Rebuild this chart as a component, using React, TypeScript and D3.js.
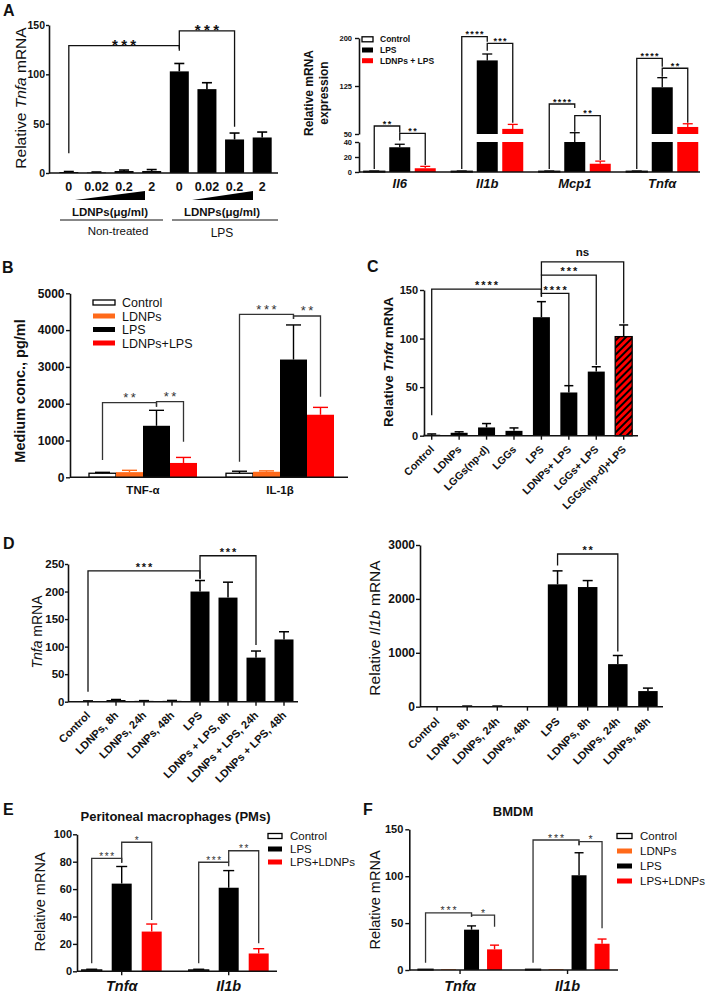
import * as d3 from "d3";
import { useEffect, useRef } from "react";

const FONT = "'Liberation Sans', Arial, Helvetica, sans-serif";
const INK = "#111";
const GREY = "#333";
const RED = "#ff0000";
const ORANGE = "#ff6a1a";

// ---------- A (left): Tnfa vs LDNPs dose ----------
const aDoses = ["0", "0.02", "0.2", "2", "0", "0.02", "0.2", "2"];
const aMeans = [1, 0.5, 2, 2, 103, 85, 34, 36];
const aErrs = [0.5, 0.5, 1, 1.5, 8, 6.5, 6.5, 5.5];
const aTicks = [0, 50, 100, 150];
// [from, to, label, top, left foot, right foot] (data units)
const aBrackets: any[] = [[0, 4, "***", 129, 20, 126], [4, 6, "***", 144, 124, 47]];

// ---------- A (right): broken axis ----------
const arGenes = ["Il6", "Il1b", "Mcp1", "Tnfα"];
const arSeries = ["Control", "LPS", "LDNPs + LPS"];
const arControl = [1, 1, 1, 1];
const arControlErr = [0.3, 0.3, 0.3, 0.3];
const arLps = [33, 165, 46, 123];
const arLpsErr = [4, 10, 6, 15];
const arLdnpsLps = [5, 58, 11, 61];
const arLdnpsLpsErr = [2.5, 7, 3.5, 5];
const arTicksLow = [0, 20, 40];
const arTicksHigh = [50, 125, 200];
// [gene, series a, series b, label, top, left foot, right foot]
const arBrackets: any[] = [
  [0, 0, 1, "**", 62.5, 4, 52], [0, 1, 2, "**", 51, 42, 9.5],
  [1, 0, 1, "****", 202, 4, 194], [1, 1, 2, "***", 191.7, 180, 67.6],
  [2, 0, 1, "****", 96.9, 4, 90.6], [2, 1, 2, "**", 78.6, 53.6, 16],
  [3, 0, 1, "****", 168.3, 4, 155], [3, 1, 2, "**", 152.7, 139.5, 67.6],
];

// ---------- B: medium concentration ----------
const bGroups = ["TNF-α", "IL-1β"];
const bSeries = ["Control", "LDNPs", "LPS", "LDNPs+LPS"];
const bControl = [110, 110];
const bControlErr = [25, 55];
const bLdnps = [140, 150];
const bLdnpsErr = [50, 25];
const bLps = [1400, 3200];
const bLpsErr = [420, 940];
const bLdnpsLps = [390, 1700];
const bLdnpsLpsErr = [150, 200];
const bTicks = [0, 1000, 2000, 3000, 4000, 5000];
const bBrackets: any[] = [
  [0, 0, 2, "**", 2027, 470, 1918], [0, 2, 3, "**", 2054, 1918, 967],
  [1, 0, 2, "***", 4429, 424, 4300], [1, 2, 3, "**", 4383, 4300, 2190],
];

// ---------- C: Tnfα with LGGs ----------
const cLabels = ["Control", "LDNPs", "LGGs(np-d)", "LGGs", "LPS", "LDNPs+ LPS", "LGGs+ LPS", "LGGs(np-d)+LPS"];
const cMeans = [1, 3, 8.5, 5, 122, 44.5, 66, 102];
const cErrs = [0.8, 1, 4, 3, 16, 7, 5, 12];
const cTicks = [0, 50, 100, 150];
const cBrackets: any[] = [
  [0, 4, "****", 151, 21, 143], [4, 5, "****", 146.5, 143, 52],
  [4, 6, "***", 165.3, 146, 72.7], [4, 7, "ns", 179, 165, 115.6],
];

// ---------- D: time course ----------
const dLeftLabels = ["Control", "LDNPs, 8h", "LDNPs, 24h", "LDNPs, 48h", "LPS", "LDNPs + LPS, 8h", "LDNPs + LPS, 24h", "LDNPs + LPS, 48h"];
const dLeftMeans = [1, 3, 1.5, 1.5, 200, 189, 80, 113];
const dLeftErrs = [0.5, 1, 0.5, 0.8, 20, 28, 12, 14];
const dLeftTicks = [0, 50, 100, 150, 200, 250];
const dLeftBrackets: any[] = [[0, 4, "***", 237.6, 18, 223], [4, 6, "***", 265, 223, 103]];

const dRightLabels = ["Control", "LDNPs, 8h", "LDNPs, 24h", "LDNPs, 48h", "LPS", "LDNPs, 8h", "LDNPs, 24h", "LDNPs, 48h"];
const dRightMeans = [0, 8, 8, 0, 2270, 2220, 790, 290];
const dRightErrs = [0, 4, 4, 0, 250, 120, 160, 55];
const dRightTicks = [0, 1000, 2000, 3000];
const dRightBrackets: any[] = [[4, 6, "**", 2833, 2621, 1022]];

// ---------- E: peritoneal macrophages ----------
const eGenes = ["Tnfα", "Il1b"];
const eSeries = ["Control", "LPS", "LPS+LDNPs"];
const eControl = [1, 1];
const eControlErr = [0.5, 0.5];
const eLps = [64, 61];
const eLpsErr = [12.5, 12.5];
const eLpsLdnps = [29, 13];
const eLpsLdnpsErr = [5.5, 3.5];
const eTicks = [0, 20, 40, 60, 80, 100];
const eBrackets: any[] = [
  [0, 0, 1, "***", 82.5, 5.8, 79.3], [0, 1, 2, "*", 94.2, 79.3, 37.4],
  [1, 0, 1, "***", 79.6, 5.8, 76.7], [1, 1, 2, "**", 88, 79.6, 20.4],
];

// ---------- F: BMDM ----------
const fGenes = ["Tnfα", "Il1b"];
const fSeries = ["Control", "LDNPs", "LPS", "LPS+LDNPs"];
const fControl = [0.8, 0.8];
const fLdnps = [0.8, 0.8];
const fLps = [43, 101];
const fLpsErr = [4, 24];
const fLpsLdnps = [22, 28];
const fLpsLdnpsErr = [4.5, 5];
const fTicks = [0, 50, 100, 150];
const fBrackets: any[] = [
  [0, 0, 2, "***", 61, 7.8, 56.8], [0, 2, 3, "*", 58.6, 56.8, 46],
  [1, 0, 2, "***", 138.6, 7.8, 133], [1, 2, 3, "*", 136.8, 133, 44.5],
];

// ---------- helpers ----------
function txt(g: any, x: number, y: number, s: string, fs: number, opts: any = {}) {
  return g.append("text").attr("x", x).attr("y", y).attr("font-family", FONT).attr("font-size", fs)
    .attr("font-weight", opts.weight || "normal").attr("font-style", opts.italic ? "italic" : "normal")
    .attr("text-anchor", opts.anchor || "start").attr("fill", opts.color || INK).text(s);
}

function axisY(g: any, y: any, ticks: number[], x: number, fs: number, size = 4, pad = 1.5) {
  const ax = g.append("g").attr("transform", `translate(${x},0)`)
    .call(d3.axisLeft(y).tickValues(ticks).tickFormat(d3.format("d")).tickSize(size).tickSizeOuter(0).tickPadding(pad));
  ax.select(".domain").attr("stroke", INK).attr("stroke-width", 1.6);
  ax.selectAll(".tick line").attr("stroke", INK).attr("stroke-width", 1.4);
  ax.selectAll(".tick text").attr("fill", INK).attr("font-size", fs).attr("font-weight", "bold").attr("font-family", FONT);
}

function hLine(g: any, x1: number, x2: number, y: number, sw = 1.6) {
  g.append("line").attr("x1", x1).attr("x2", x2).attr("y1", y).attr("y2", y).attr("stroke", INK).attr("stroke-width", sw);
}

function xTicks(g: any, xs: number[], y: number) {
  xs.forEach((x) => g.append("line").attr("x1", x).attr("x2", x).attr("y1", y).attr("y2", y + 4).attr("stroke", INK).attr("stroke-width", 1.4));
}

function rect(g: any, x: number, y: number, w: number, h: number, fill: string, stroke?: string) {
  const r = g.append("rect").attr("x", x).attr("y", y).attr("width", w).attr("height", Math.max(h, 0.6)).attr("fill", fill);
  if (stroke) r.attr("stroke", stroke).attr("stroke-width", 1.3);
  return r;
}

function errBar(g: any, cx: number, y0: number, y1: number, cap: number, color: string, sw = 1.4) {
  g.append("line").attr("x1", cx).attr("x2", cx).attr("y1", y0).attr("y2", y1).attr("stroke", color).attr("stroke-width", sw);
  g.append("line").attr("x1", cx - cap / 2).attr("x2", cx + cap / 2).attr("y1", y1).attr("y2", y1).attr("stroke", color).attr("stroke-width", sw);
}

function bracket(g: any, x1: number, x2: number, yTop: number, yL: number, yR: number, label: string, st: any) {
  g.append("path").attr("d", `M${x1},${yL}V${yTop}H${x2}V${yR}`).attr("fill", "none")
    .attr("stroke", st.color).attr("stroke-width", 1.3);
  const star = label.indexOf("*") >= 0;
  const fs = star ? st.fs : st.fs * 1.05;
  const by = star ? yTop - st.gap + fs * 0.57 : yTop - 8.5 + fs * 0.26;
  g.append("text").attr("x", (x1 + x2) / 2 + (star ? st.ls / 2 : 0)).attr("y", by)
    .attr("text-anchor", "middle").attr("font-family", FONT).attr("font-size", fs)
    .attr("font-weight", st.weight).attr("letter-spacing", star ? st.ls : 0).attr("fill", st.color).text(label);
}

function yLabel(g: any, x: number, y: number, parts: [string, boolean][], fs: number, weight = "normal") {
  const t = g.append("text").attr("transform", `translate(${x},${y}) rotate(-90)`).attr("text-anchor", "middle")
    .attr("font-family", FONT).attr("font-size", fs).attr("font-weight", weight).attr("fill", INK)
    .style("white-space", "pre");
  parts.forEach(([s, it]) => t.append("tspan").attr("font-style", it ? "italic" : "normal").text(s));
}

function rotLabels(g: any, labels: string[], xs: number[], y: number, fs: number) {
  labels.forEach((l, i) => g.append("text").attr("transform", `translate(${xs[i] + 3},${y}) rotate(-45)`)
    .attr("text-anchor", "end").attr("font-family", FONT).attr("font-size", fs).attr("font-weight", "bold")
    .attr("fill", INK).text(l));
}

function legend(g: any, x: number, ys: number[], w: number, h: number, items: any[], tx: number, fs: number, weight = "normal") {
  items.forEach((it, i) => {
    rect(g, x, ys[i] - h / 2, w, h, it.fill, it.stroke);
    txt(g, tx, ys[i], it.label, fs, { weight }).attr("dy", "0.36em");
  });
}

export default function App() {
  const ref = useRef<SVGSVGElement>(null);

  useEffect(() => {
    const svg = d3.select(ref.current);
    svg.selectAll("*").remove();
    svg.append("rect").attr("width", 709).attr("height", 995).attr("fill", "#fff");

    const pat = svg.append("defs").append("pattern").attr("id", "hatch").attr("patternUnits", "userSpaceOnUse")
      .attr("width", 5).attr("height", 5).attr("patternTransform", "rotate(45)");
    pat.append("rect").attr("width", 5).attr("height", 5).attr("fill", RED);
    pat.append("rect").attr("width", 2).attr("height", 5).attr("fill", "#000");

    // panel letters
    [["A", 3, 16], ["B", 2, 273], ["C", 367, 272], ["D", 3, 549], ["E", 3, 815], ["F", 363, 815]].forEach(([l, x, y]: any) =>
      txt(svg, x, y, l, 16, { weight: "bold" }));

    // ===== A left =====
    {
      const g = svg.append("g");
      const x = d3.scalePoint<number>().domain(d3.range(aMeans.length)).range([55, 276]).padding(0.5);
      const y = d3.scaleLinear().domain([0, 150]).range([173, 25]);
      const bw = 19;
      aMeans.forEach((m, i) => {
        const cx = x(i)!;
        rect(g, cx - bw / 2, y(m), bw, y(0) - y(m), "#000");
        errBar(g, cx, y(m), y(m + aErrs[i]), 10, "#000", 1.6);
      });
      hLine(g, 49, 278, y(0));
      axisY(g, y, aTicks, 49, 10.5, 3, 1);
      aDoses.forEach((d, i) => txt(g, x(i)!, 191, d, 12.5, { weight: "bold", anchor: "middle" }));
      const st = { fs: 15, ls: 3.4, gap: 4, weight: "bold", color: INK };
      aBrackets.forEach(([a, b, l, t, lf, rf]) => bracket(g, x(a)!, x(b)!, y(t), y(lf), y(rf), l, st));
      g.append("path").attr("d", "M75,200L145,191V200Z").attr("fill", "#000");
      g.append("path").attr("d", "M192,200L253,191V200Z").attr("fill", "#000");
      txt(g, 110, 216, "LDNPs(μg/ml)", 11.5, { weight: "bold", anchor: "middle" });
      txt(g, 222, 216, "LDNPs(μg/ml)", 11.5, { weight: "bold", anchor: "middle" });
      hLine(g, 60, 163, 220, 1);
      hLine(g, 172, 278, 220, 1);
      txt(g, 118, 235, "Non-treated", 11.5, { anchor: "middle" });
      txt(g, 222, 237, "LPS", 12, { anchor: "middle" });
      yLabel(g, 26, 98, [["Relative ", false], ["Tnfa", true], [" mRNA", false]], 15.5);
    }

    // ===== A right =====
    {
      const g = svg.append("g");
      const x = d3.scalePoint<string>().domain(arGenes).range([356, 706]).padding(0.5);
      const yLow = d3.scaleLinear().domain([0, 40]).range([172, 142]);
      const yGap = d3.scaleLinear().domain([40, 50]).range([142, 134]);
      const yHigh = d3.scaleLinear().domain([50, 200]).range([134, 38]);
      const y = (v: number) => (v <= 40 ? yLow(v) : v < 50 ? yGap(v) : yHigh(v));
      const off = [-25.5, 0, 25.5];
      const bw = 21;
      const series = [
        { m: arControl, e: arControlErr, fill: "#fff", stroke: "#000", ec: "#000" },
        { m: arLps, e: arLpsErr, fill: "#000", ec: "#000" },
        { m: arLdnpsLps, e: arLdnpsLpsErr, fill: RED, ec: RED },
      ];
      arGenes.forEach((gene, gi) => {
        series.forEach((s, si) => {
          const cx = x(gene)! + off[si];
          const v = s.m[gi];
          const lowTop = yLow(Math.min(v, 40));
          rect(g, cx - bw / 2, lowTop, bw, yLow(0) - lowTop, s.fill, s.stroke);
          if (v > 50) rect(g, cx - bw / 2, yHigh(v), bw, yHigh(50) - yHigh(v), s.fill, s.stroke);
          const top = v > 40 && v < 50 ? yLow(40) : y(v);
          errBar(g, cx, top, y(v + s.e[gi]), 10, s.ec, 1.3);
        });
        txt(g, x(gene)!, 188, gene, 13, { weight: "bold", italic: true, anchor: "middle" });
      });
      hLine(g, 359, 700, yLow(0), 1.4);
      axisY(g, yLow, arTicksLow, 359, 7.5, 4, 3);
      axisY(g, yHigh, arTicksHigh, 359, 7.5, 4, 3);
      const st = { fs: 9, ls: 1.3, gap: 4.4, weight: "bold", color: INK };
      arBrackets.forEach(([gi, a, b, l, t, lf, rf]) =>
        bracket(g, x(arGenes[gi])! + off[a], x(arGenes[gi])! + off[b], y(t), y(lf), y(rf), l, st));
      legend(g, 362, [39.3, 50, 60.7], 11, 5, [
        { label: arSeries[0], fill: "#fff", stroke: "#000" },
        { label: arSeries[1], fill: "#000" },
        { label: arSeries[2], fill: RED },
      ], 380, 8.5, "bold");
      yLabel(g, 313, 93, [["Relative mRNA", false]], 12, "bold");
      yLabel(g, 328, 93, [["expression", false]], 12, "bold");
    }

    // ===== B =====
    {
      const g = svg.append("g");
      const x = d3.scalePoint<string>().domain(bGroups).range([74.5, 348.5]).padding(0.5);
      const y = d3.scaleLinear().domain([0, 5000]).range([477.3, 293.3]);
      const off = [-40.5, -13.5, 13.5, 40.5];
      const bw = 27;
      const series = [
        { m: bControl, e: bControlErr, fill: "#fff", stroke: "#000", ec: "#000" },
        { m: bLdnps, e: bLdnpsErr, fill: ORANGE, ec: ORANGE },
        { m: bLps, e: bLpsErr, fill: "#000", ec: "#000" },
        { m: bLdnpsLps, e: bLdnpsLpsErr, fill: RED, ec: RED },
      ];
      bGroups.forEach((grp, gi) => {
        series.forEach((s, si) => {
          const cx = x(grp)! + off[si];
          const v = s.m[gi];
          rect(g, cx - bw / 2, y(v), bw, y(0) - y(v), s.fill, s.stroke);
          errBar(g, cx, y(v), y(v + s.e[gi]), 15, s.ec, 1.4);
        });
        txt(g, x(grp)!, 494, grp, 11.5, { weight: "bold", anchor: "middle" });
      });
      hLine(g, 70, 348, y(0));
      axisY(g, y, bTicks, 70, 12, 4, 1.5);
      const st = { fs: 13, ls: 2.6, gap: 8, weight: "normal", color: GREY };
      bBrackets.forEach(([gi, a, b, l, t, lf, rf]) =>
        bracket(g, x(bGroups[gi])! + off[a], x(bGroups[gi])! + off[b], y(t), y(lf), y(rf), l, st));
      legend(g, 93, [302.5, 316, 329.5, 343], 22, 5, [
        { label: bSeries[0], fill: "#fff", stroke: "#000" },
        { label: bSeries[1], fill: ORANGE },
        { label: bSeries[2], fill: "#000" },
        { label: bSeries[3], fill: RED },
      ], 122, 12.5);
      yLabel(g, 25, 391, [["Medium conc., pg/ml", false]], 14.5, "bold");
    }

    // ===== C =====
    {
      const g = svg.append("g");
      const x = d3.scalePoint<number>().domain(d3.range(cMeans.length)).range([418, 637.4]).padding(0.5);
      const y = d3.scaleLinear().domain([0, 150]).range([435.7, 290]);
      const bw = 17;
      cMeans.forEach((m, i) => {
        const cx = x(i)!;
        const last = i === cMeans.length - 1;
        rect(g, cx - bw / 2, y(m), bw, y(0) - y(m), last ? "url(#hatch)" : "#000", last ? "#000" : undefined);
        errBar(g, cx, y(m), y(m + cErrs[i]), 9, "#000", 1.5);
      });
      hLine(g, 424, 638, y(0));
      xTicks(g, cMeans.map((_, i) => x(i)!), y(0));
      axisY(g, y, cTicks, 424, 11, 4, 2);
      rotLabels(g, cLabels, cMeans.map((_, i) => x(i)!), 450, 10.5);
      const st = { fs: 11, ls: 2, gap: 6, weight: "bold", color: INK };
      cBrackets.forEach(([a, b, l, t, lf, rf]) => bracket(g, x(a)!, x(b)!, y(t), y(lf), y(rf), l, st));
      yLabel(g, 393, 362, [["Relative ", false], ["Tnfα", true], [" mRNA", false]], 13.5, "bold");
    }

    // ===== D left =====
    {
      const g = svg.append("g");
      const x = d3.scalePoint<number>().domain(d3.range(dLeftMeans.length)).range([74, 298]).padding(0.5);
      const y = d3.scaleLinear().domain([0, 250]).range([701.7, 564]);
      const bw = 19;
      dLeftMeans.forEach((m, i) => {
        const cx = x(i)!;
        rect(g, cx - bw / 2, y(m), bw, y(0) - y(m), "#000");
        errBar(g, cx, y(m), y(m + dLeftErrs[i]), 10, "#000", 1.5);
      });
      hLine(g, 68, 298, y(0));
      xTicks(g, dLeftMeans.map((_, i) => x(i)!), y(0));
      axisY(g, y, dLeftTicks, 68, 11.5, 3, 0.5);
      rotLabels(g, dLeftLabels, dLeftMeans.map((_, i) => x(i)!), 716, 11);
      const st = { fs: 11, ls: 1.8, gap: 6, weight: "bold", color: INK };
      dLeftBrackets.forEach(([a, b, l, t, lf, rf]) => bracket(g, x(a)!, x(b)!, y(t), y(lf), y(rf), l, st));
      yLabel(g, 42, 632, [["Tnfa", true], [" mRNA", false]], 14);
    }

    // ===== D right =====
    {
      const g = svg.append("g");
      const x = d3.scalePoint<number>().domain(d3.range(dRightMeans.length)).range([422, 663]).padding(0.5);
      const y = d3.scaleLinear().domain([0, 3000]).range([706.7, 545]);
      const bw = 19.5;
      dRightMeans.forEach((m, i) => {
        const cx = x(i)!;
        if (m > 0) rect(g, cx - bw / 2, y(m), bw, y(0) - y(m), "#000");
        if (dRightErrs[i] > 0) errBar(g, cx, y(m), y(m + dRightErrs[i]), 10, "#000", 1.5);
      });
      hLine(g, 420, 663, y(0));
      xTicks(g, dRightMeans.map((_, i) => x(i)!), y(0));
      axisY(g, y, dRightTicks, 420, 12, 4, 1);
      rotLabels(g, dRightLabels, dRightMeans.map((_, i) => x(i)!), 722, 11);
      const st = { fs: 11, ls: 1.8, gap: 6, weight: "bold", color: INK };
      dRightBrackets.forEach(([a, b, l, t, lf, rf]) => bracket(g, x(a)!, x(b)!, y(t), y(lf), y(rf), l, st));
      yLabel(g, 380, 628, [["Relative ", false], ["Il1b", true], [" mRNA", false]], 15.5);
    }

    // ===== E =====
    {
      const g = svg.append("g");
      const x = d3.scalePoint<string>().domain(eGenes).range([68.2, 282.2]).padding(0.5);
      const y = d3.scaleLinear().domain([0, 100]).range([971.3, 834.3]);
      const off = [-30, 0, 30];
      const bw = 20;
      const series = [
        { m: eControl, e: eControlErr, fill: "#fff", stroke: "#000", ec: "#000" },
        { m: eLps, e: eLpsErr, fill: "#000", ec: "#000" },
        { m: eLpsLdnps, e: eLpsLdnpsErr, fill: RED, ec: RED },
      ];
      eGenes.forEach((gene, gi) => {
        series.forEach((s, si) => {
          const cx = x(gene)! + off[si];
          const v = s.m[gi];
          rect(g, cx - bw / 2, y(v), bw, y(0) - y(v), s.fill, s.stroke);
          errBar(g, cx, y(v), y(v + s.e[gi]), 11, s.ec, 1.4);
        });
        txt(g, x(gene)!, 991, gene, 14.5, { weight: "bold", italic: true, anchor: "middle" });
      });
      hLine(g, 77, 277, y(0));
      xTicks(g, eGenes.map((d) => x(d)!), y(0));
      axisY(g, y, eTicks, 77, 11, 4, 1);
      const st = { fs: 10, ls: 1.7, gap: 4.3, weight: "normal", color: GREY };
      eBrackets.forEach(([gi, a, b, l, t, lf, rf]) =>
        bracket(g, x(eGenes[gi])! + off[a], x(eGenes[gi])! + off[b], y(t), y(lf), y(rf), l, st));
      legend(g, 268, [836, 849, 862], 14, 5, [
        { label: eSeries[0], fill: "#fff", stroke: "#000" },
        { label: eSeries[1], fill: "#000" },
        { label: eSeries[2], fill: RED },
      ], 290, 11.5);
      txt(g, 175.5, 821, "Peritoneal macrophages (PMs)", 13, { weight: "bold", anchor: "middle" });
      yLabel(g, 45, 902, [["Relative mRNA", false]], 14.5);
    }

    // ===== F =====
    {
      const g = svg.append("g");
      const x = d3.scalePoint<string>().domain(fGenes).range([406.3, 621.3]).padding(0.5);
      const y = d3.scaleLinear().domain([0, 150]).range([970, 829.3]);
      const off = [-34.5, -11.5, 11.5, 34.5];
      const bw = 15;
      const series = [
        { m: fControl, e: [0, 0], fill: "#fff", stroke: "#000", ec: "#000" },
        { m: fLdnps, e: [0, 0], fill: ORANGE, ec: ORANGE },
        { m: fLps, e: fLpsErr, fill: "#000", ec: "#000" },
        { m: fLpsLdnps, e: fLpsLdnpsErr, fill: RED, ec: RED },
      ];
      fGenes.forEach((gene, gi) => {
        series.forEach((s, si) => {
          const cx = x(gene)! + off[si];
          const v = s.m[gi];
          rect(g, cx - bw / 2, y(v), bw, y(0) - y(v), s.fill, s.stroke);
          if (s.e[gi] > 0) errBar(g, cx, y(v), y(v + s.e[gi]), 9, s.ec, 1.4);
        });
        txt(g, x(gene)!, 991, gene, 14.5, { weight: "bold", italic: true, anchor: "middle" });
      });
      hLine(g, 409.3, 618, y(0));
      xTicks(g, fGenes.map((d) => x(d)!), y(0));
      axisY(g, y, fTicks, 409.3, 11, 4, 2);
      const st = { fs: 10.5, ls: 1.9, gap: 4.4, weight: "normal", color: GREY };
      fBrackets.forEach(([gi, a, b, l, t, lf, rf]) =>
        bracket(g, x(fGenes[gi])! + off[a], x(fGenes[gi])! + off[b], y(t), y(lf), y(rf), l, st));
      legend(g, 617, [836, 851, 866, 881], 15, 5, [
        { label: fSeries[0], fill: "#fff", stroke: "#000" },
        { label: fSeries[1], fill: ORANGE },
        { label: fSeries[2], fill: "#000" },
        { label: fSeries[3], fill: RED },
      ], 640, 11.5);
      txt(g, 513, 816, "BMDM", 13, { weight: "bold", anchor: "middle" });
      yLabel(g, 380, 900, [["Relative mRNA", false]], 14.5);
    }
  }, []);

  return <svg ref={ref} width={709} height={995} style={{ position: "absolute", left: 0, top: 0 }} />;
}
